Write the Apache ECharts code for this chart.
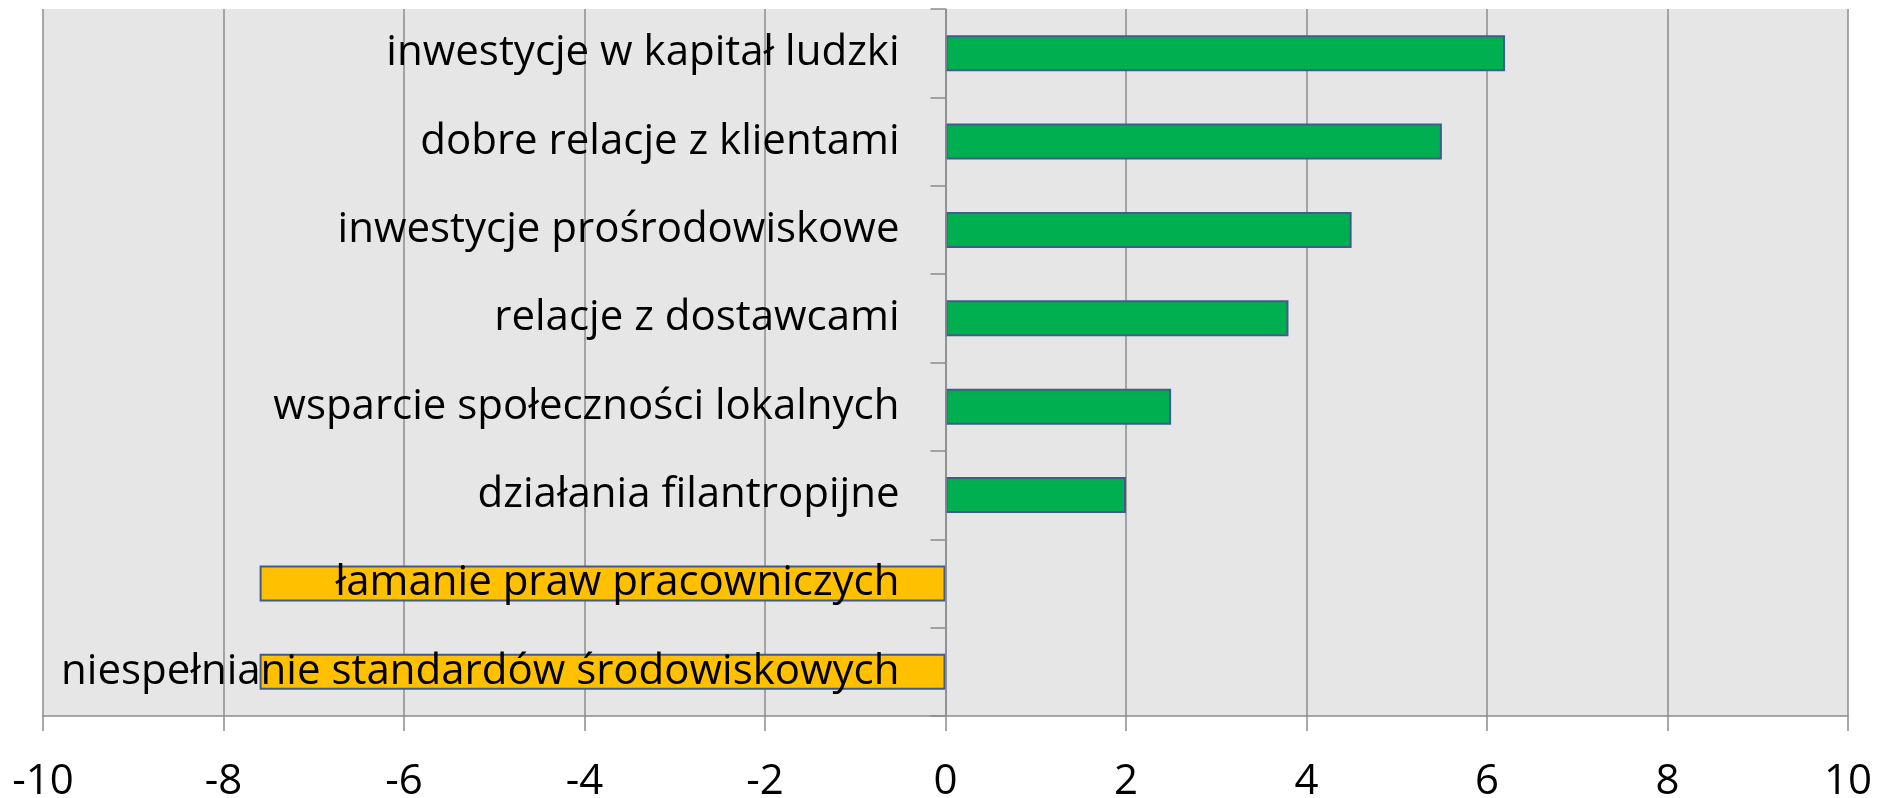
<!DOCTYPE html>
<html lang="pl">
<head>
    <meta charset="UTF-8">
    <title>Wykres</title>
    <script src="https://cdn.jsdelivr.net/npm/echarts@6/dist/echarts.min.js"></script>
    <style>
        html, body { margin: 0; padding: 0; background: #fff; }
        #main { width: 1879px; height: 798px; }
    </style>
</head>
<body>
<div id="main"></div>
<script>
    // kategorie od góry do dołu
    var categories = [
        'inwestycje w kapitał ludzki',
        'dobre relacje z klientami',
        'inwestycje prośrodowiskowe',
        'relacje z dostawcami',
        'wsparcie społeczności lokalnych',
        'działania filantropijne',
        'łamanie praw pracowniczych',
        'niespełnianie standardów środowiskowych'
    ];
    var values = [6.2, 5.5, 4.5, 3.8, 2.5, 2.0, -7.6, -7.6];
    var xTicks = [-10, -8, -6, -4, -2, 0, 2, 4, 6, 8, 10];

    var GREEN = '#00b050';
    var ORANGE = '#ffc000';
    var FONT = 'Open Sans';

    var gridLeft = 43, gridRight = 31, chartW = 1879;
    // przesunięcie osi kategorii do wartości 0
    var plotW = chartW - gridLeft - gridRight;
    var zeroOffset = -plotW * (0 - xTicks[0]) / (xTicks[xTicks.length - 1] - xTicks[0]);

    var barData = [];
    for (var i = 0; i < values.length; i++) {
        barData.push({
            value: values[i],
            itemStyle: { color: values[i] < 0 ? ORANGE : GREEN }
        });
    }

    var myChart = echarts.init(document.getElementById('main'));
    var option = {
        animation: false,
        grid: {
            left: gridLeft,
            right: gridRight,
            top: 9,
            bottom: 82,
            containLabel: false,
            outerBoundsMode: 'none',
            show: true,
            backgroundColor: '#e6e6e6',
            borderWidth: 0
        },
        xAxis: {
            type: 'value',
            min: xTicks[0],
            max: xTicks[xTicks.length - 1],
            interval: 2,
            axisLine: { show: true, onZero: false, lineStyle: { color: '#8c8c8c', width: 1.5 } },
            axisTick: { show: true, length: 15, lineStyle: { color: '#8c8c8c', width: 1.5 } },
            splitLine: { show: true, lineStyle: { color: '#8c8c8c', width: 1.5 } },
            axisLabel: {
                margin: 45,
                fontFamily: FONT,
                fontSize: 42,
                color: '#000'
            }
        },
        yAxis: {
            type: 'category',
            inverse: true,
            data: categories,
            z: 10,
            position: 'left',
            offset: zeroOffset,
            axisLine: { show: true, onZero: false, lineStyle: { color: '#8c8c8c', width: 1.5 } },
            axisTick: { show: true, length: 15, lineStyle: { color: '#8c8c8c', width: 1.5 } },
            axisLabel: {
                margin: 46,
                fontFamily: FONT,
                fontSize: 42,
                color: '#000'
            }
        },
        series: [{
            type: 'bar',
            data: barData,
            barWidth: 36,
            itemStyle: { borderColor: '#3f5c8c', borderWidth: 2 }
        }]
    };
    myChart.setOption(option);
</script>
</body>
</html>
